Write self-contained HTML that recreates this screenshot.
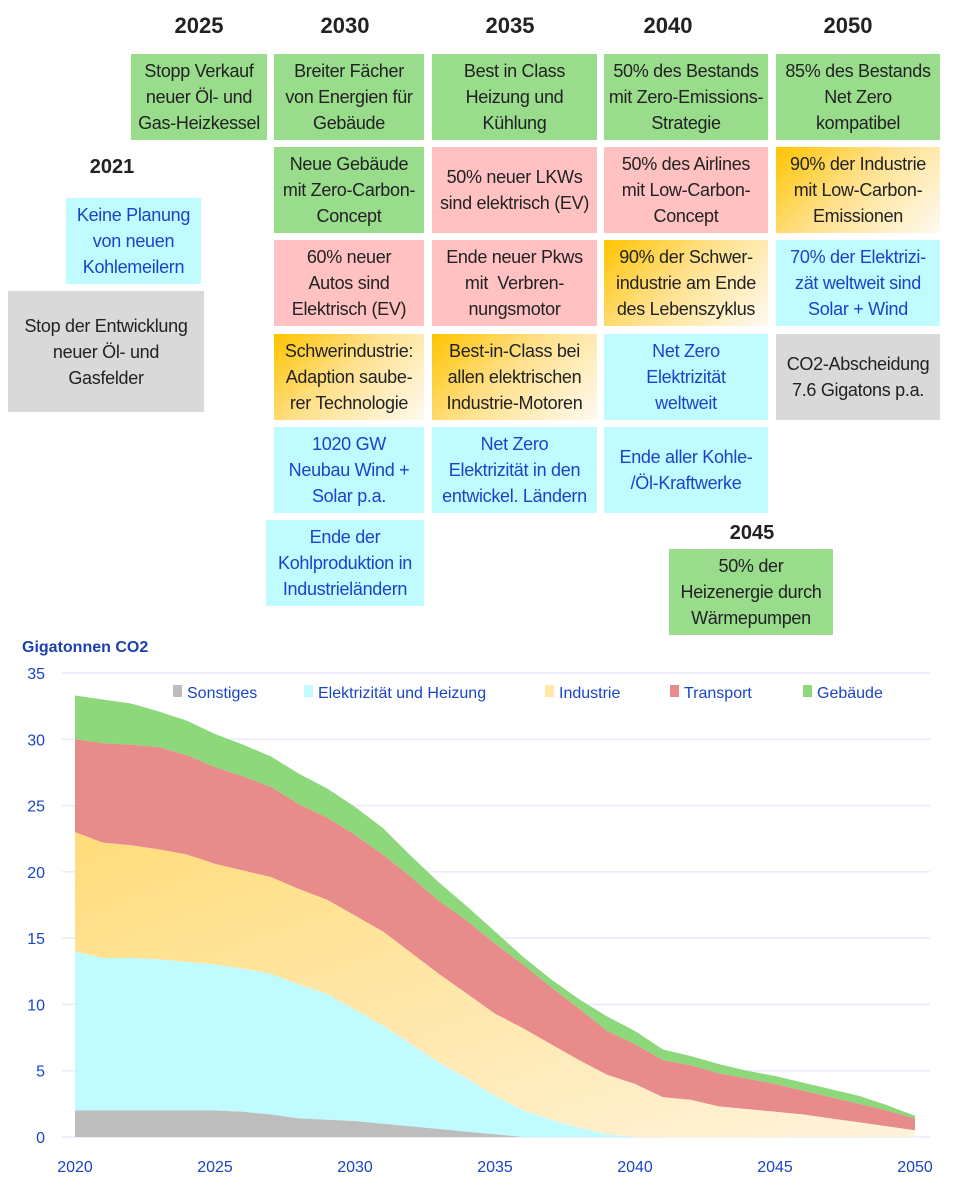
<!DOCTYPE html>
<html><head><meta charset="utf-8">
<style>
body{margin:0;width:960px;height:1186px;background:#fff;font-family:"Liberation Sans",sans-serif;position:relative;overflow:hidden}
.b{position:absolute;display:flex;align-items:center;justify-content:center;text-align:center;font-size:18px;line-height:26px;color:#222;letter-spacing:-0.3px;box-sizing:border-box;white-space:nowrap}
.g{background:#98dc8c}.p{background:#ffc1c1}.c{background:#c0fbff;color:#1a44c8}.gr{background:#d9d9d9}
.o{background:linear-gradient(135deg,#ffc400 0%,#ffe08a 45%,#fffaf0 100%)}
.h{position:absolute;font-weight:bold;font-size:22px;color:#222;transform:translateX(-50%)}
</style></head><body>
<div class="h" style="left:199px;top:13px">2025</div>
<div class="h" style="left:345px;top:13px">2030</div>
<div class="h" style="left:510px;top:13px">2035</div>
<div class="h" style="left:668px;top:13px">2040</div>
<div class="h" style="left:848px;top:13px">2050</div>
<div class="h" style="left:112px;top:156px;font-size:20px">2021</div>
<div class="h" style="left:752px;top:522px;font-size:20px">2045</div>

<div class="b g" style="left:131px;top:54px;width:136px;height:86px">Stopp Verkauf<br>neuer Öl- und<br>Gas-Heizkessel</div>
<div class="b g" style="left:274px;top:54px;width:150px;height:86px">Breiter Fächer<br>von Energien für<br>Gebäude</div>
<div class="b g" style="left:432px;top:54px;width:165px;height:86px">Best in Class<br>Heizung und<br>Kühlung</div>
<div class="b g" style="left:604px;top:54px;width:164px;height:86px">50% des Bestands<br>mit Zero-Emissions-<br>Strategie</div>
<div class="b g" style="left:776px;top:54px;width:164px;height:86px">85% des Bestands<br>Net Zero<br>kompatibel</div>

<div class="b g" style="left:274px;top:147px;width:150px;height:86px">Neue Gebäude<br>mit Zero-Carbon-<br>Concept</div>
<div class="b p" style="left:432px;top:147px;width:165px;height:86px">50% neuer LKWs<br>sind elektrisch (EV)</div>
<div class="b p" style="left:604px;top:147px;width:164px;height:86px">50% des Airlines<br>mit Low-Carbon-<br>Concept</div>
<div class="b o" style="left:776px;top:147px;width:164px;height:86px">90% der Industrie<br>mit Low-Carbon-<br>Emissionen</div>

<div class="b p" style="left:274px;top:240px;width:150px;height:86px">60% neuer<br>Autos sind<br>Elektrisch (EV)</div>
<div class="b p" style="left:432px;top:240px;width:165px;height:86px">Ende neuer Pkws<br>mit &nbsp;Verbren-<br>nungsmotor</div>
<div class="b o" style="left:604px;top:240px;width:164px;height:86px">90% der Schwer-<br>industrie am Ende<br>des Lebenszyklus</div>
<div class="b c" style="left:776px;top:240px;width:164px;height:86px">70% der Elektrizi-<br>zät weltweit sind<br>Solar + Wind</div>

<div class="b o" style="left:274px;top:334px;width:150px;height:86px">Schwerindustrie:<br>Adaption saube-<br>rer Technologie</div>
<div class="b o" style="left:432px;top:334px;width:165px;height:86px">Best-in-Class bei<br>allen elektrischen<br>Industrie-Motoren</div>
<div class="b c" style="left:604px;top:334px;width:164px;height:86px">Net Zero<br>Elektrizität<br>weltweit</div>
<div class="b gr" style="left:776px;top:334px;width:164px;height:86px">CO2-Abscheidung<br>7.6 Gigatons p.a.</div>

<div class="b c" style="left:274px;top:427px;width:150px;height:86px">1020 GW<br>Neubau Wind +<br>Solar p.a.</div>
<div class="b c" style="left:432px;top:427px;width:165px;height:86px">Net Zero<br>Elektrizität in den<br>entwickel. Ländern</div>
<div class="b c" style="left:604px;top:427px;width:164px;height:86px">Ende aller Kohle-<br>/Öl-Kraftwerke</div>

<div class="b c" style="left:266px;top:520px;width:158px;height:86px">Ende der<br>Kohlproduktion in<br>Industrieländern</div>
<div class="b g" style="left:669px;top:549px;width:164px;height:86px">50% der<br>Heizenergie durch<br>Wärmepumpen</div>

<div class="b c" style="left:66px;top:198px;width:135px;height:86px">Keine Planung<br>von neuen<br>Kohlemeilern</div>
<div class="b gr" style="left:8px;top:291px;width:196px;height:121px">Stop der Entwicklung<br>neuer Öl- und<br>Gasfelder</div>

<svg id="ch" style="position:absolute;left:0;top:630px" width="960" height="556" viewBox="0 630 960 556">
<text x="22" y="652" font-size="16" font-weight="bold" fill="#1a3fb0" font-family="Liberation Sans">Gigatonnen CO2</text>
<g id="grid"></g><g id="areas"></g>
<g font-size="16" fill="#1a44c8" font-family="Liberation Sans">
<rect x="173" y="685" width="9" height="12" fill="#bdbdbd"/><text x="187" y="698">Sonstiges</text>
<rect x="304" y="685" width="9" height="12" fill="#c0fbff"/><text x="318" y="698">Elektrizität und Heizung</text>
<rect x="545" y="685" width="9" height="12" fill="#ffe8a8"/><text x="559" y="698">Industrie</text>
<rect x="670" y="685" width="9" height="12" fill="#e88b8b"/><text x="684" y="698">Transport</text>
<rect x="803" y="685" width="9" height="12" fill="#8dd87a"/><text x="817" y="698">Gebäude</text>
</g>
<g id="ax" font-size="16" fill="#1a44c8" font-family="Liberation Sans"></g>
</svg>
<script>
var X=function(i){return 75+i*28},Y=function(v){return 1137-v*13.257};
var S=[2,2,2,2,2,2,1.9,1.7,1.4,1.3,1.2,1.0,0.8,0.6,0.4,0.2,0,0,0,0,0,0,0,0,0,0,0,0,0,0,0];
var E=[14,13.5,13.5,13.4,13.2,13.0,12.7,12.3,11.5,10.8,9.6,8.4,7.0,5.6,4.4,3.1,2.0,1.3,0.7,0.2,0,0,0,0,0,0,0,0,0,0,0];
var I=[23,22.2,22,21.7,21.3,20.6,20.1,19.6,18.7,17.9,16.7,15.5,13.9,12.3,10.8,9.3,8.2,7.0,5.8,4.7,4.0,3.0,2.8,2.3,2.1,1.9,1.7,1.4,1.1,0.8,0.5];
var T=[30,29.7,29.6,29.4,28.8,27.9,27.2,26.4,25.1,24.1,22.8,21.3,19.6,17.8,16.3,14.6,13.0,11.3,9.7,8.0,7.0,5.8,5.4,4.8,4.4,4.0,3.5,3.0,2.5,2.0,1.4];
var G=[33.3,33,32.7,32.1,31.4,30.4,29.6,28.7,27.4,26.3,24.9,23.3,21.2,19.2,17.4,15.5,13.6,11.9,10.4,9.1,8.0,6.6,6.1,5.5,5.0,4.6,4.1,3.6,3.1,2.4,1.6];
var Z=S.map(function(){return 0});
function area(top,bot,col){var d="M"+X(0)+","+Y(top[0]);for(var i=1;i<31;i++)d+="L"+X(i)+","+Y(top[i]);for(var i=30;i>=0;i--)d+="L"+X(i)+","+Y(bot[i]);return '<path d="'+d+'Z" fill="'+col+'"/>';}
var h='<defs><linearGradient id="ig" x1="0" y1="0" x2="1" y2="1"><stop offset="0" stop-color="#ffdc7a"/><stop offset="1" stop-color="#fff3dc"/></linearGradient></defs>';
h+=area(G,T,"#8dd87a")+area(T,I,"#e88b8b")+area(I,E,"url(#ig)")+area(E,S,"#c0fbff")+area(S,Z,"#bdbdbd");
document.getElementById("areas").innerHTML=h;
var g="";for(var v=0;v<=35;v+=5)g+='<line x1="62" x2="930" y1="'+Y(v)+'" y2="'+Y(v)+'" stroke="#e6ecfa" stroke-width="1.5"/>';
document.getElementById("grid").innerHTML=g;
var a="";for(var v=0;v<=35;v+=5)a+='<text x="45" y="'+(Y(v)+6)+'" text-anchor="end">'+v+'</text>';
for(var k=0;k<=6;k++)a+='<text x="'+X(k*5)+'" y="1172" text-anchor="middle">'+(2020+k*5)+'</text>';
document.getElementById("ax").innerHTML=a;
</script>
</body></html>
